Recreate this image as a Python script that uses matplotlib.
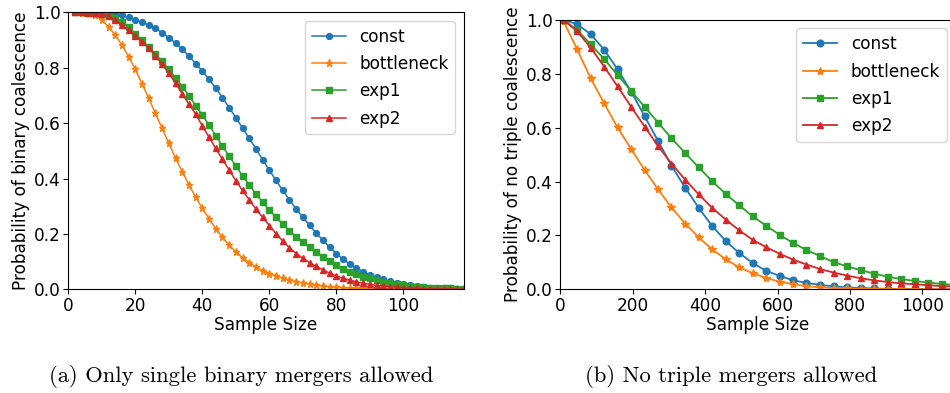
import matplotlib
matplotlib.use("Agg")
import matplotlib.pyplot as plt

# (a) only single binary mergers allowed
n_binary = list(range(2, 120, 2))
bin_const = [1.0, 1.0, 1.0, 1.0, 0.999, 0.998, 0.996, 0.990, 0.982, 0.973, 0.964, 0.954, 0.942, 0.926, 0.908,
             0.889, 0.867, 0.842, 0.815,
             0.788, 0.758, 0.726, 0.692, 0.656, 0.620, 0.582, 0.545, 0.507, 0.468, 0.430, 0.393, 0.357, 0.323,
             0.290, 0.260, 0.231, 0.203, 0.177, 0.152,
             0.129, 0.108, 0.091, 0.077, 0.064, 0.053, 0.044, 0.036, 0.029, 0.023, 0.018, 0.014, 0.011, 0.008,
             0.006, 0.005, 0.004, 0.003, 0.002, 0.002]
bin_bottleneck = [1.0, 0.999, 0.997, 0.990, 0.972, 0.948, 0.918, 0.882, 0.840, 0.794, 0.742, 0.690, 0.635, 0.581,
                  0.527, 0.473, 0.425, 0.377, 0.333,
                  0.292, 0.255, 0.219, 0.188, 0.160, 0.135, 0.114, 0.096, 0.081, 0.067, 0.057, 0.048, 0.040,
                  0.033, 0.028, 0.023, 0.018, 0.014, 0.012, 0.010,
                  0.008, 0.006, 0.005, 0.004, 0.003, 0.002, 0.002, 0.001, 0.001, 0.001, 0.001, 0.0005, 0.0004,
                  0.0003, 0.0002, 0.0002, 0.0001, 0.0001, 0.0001, 0.0]
bin_exp1 = [1.0, 1.0, 0.999, 0.997, 0.994, 0.990, 0.981, 0.966, 0.946, 0.922, 0.899, 0.875, 0.848, 0.823, 0.795,
            0.764, 0.732, 0.699, 0.663,
            0.629, 0.593, 0.555, 0.517, 0.481, 0.445, 0.410, 0.377, 0.344, 0.314, 0.286, 0.260, 0.235, 0.211,
            0.190, 0.171, 0.152, 0.135, 0.118, 0.101,
            0.086, 0.074, 0.063, 0.054, 0.046, 0.039, 0.032, 0.027, 0.022, 0.018, 0.015, 0.012, 0.010, 0.008,
            0.006, 0.005, 0.004, 0.003, 0.002, 0.002]
bin_exp2 = [1.0, 1.0, 0.999, 0.996, 0.993, 0.988, 0.972, 0.954, 0.936, 0.916, 0.894, 0.871, 0.844, 0.812, 0.780,
            0.744, 0.706, 0.669, 0.633,
            0.590, 0.549, 0.509, 0.469, 0.431, 0.392, 0.357, 0.323, 0.290, 0.260, 0.230, 0.201, 0.174, 0.150,
            0.129, 0.112, 0.096, 0.083, 0.070, 0.058,
            0.048, 0.040, 0.033, 0.027, 0.022, 0.018, 0.014, 0.011, 0.009, 0.007, 0.005, 0.004, 0.003, 0.002,
            0.002, 0.001, 0.001, 0.001, 0.0005, 0.0003]

# (b) no triple mergers allowed
n_triple = [9, 46, 84, 121, 158, 196, 233, 270, 307, 345, 382, 419, 457, 494, 531,
            569, 606, 643, 680, 718, 755, 792, 830, 867, 904, 942, 979, 1016, 1053, 1091]
tri_const = [1.0, 0.985, 0.947, 0.890, 0.817, 0.734, 0.642, 0.551, 0.459, 0.377, 0.303, 0.236, 0.179, 0.135,
             0.098, 0.068, 0.050, 0.033, 0.024, 0.016, 0.011, 0.007, 0.005, 0.003, 0.002, 0.001, 0.001,
             0.0005, 0.0003, 0.0002]
tri_bottleneck = [0.995, 0.892, 0.783, 0.691, 0.601, 0.520, 0.443, 0.371, 0.304, 0.244, 0.193, 0.149, 0.111,
                  0.082, 0.060, 0.042, 0.028, 0.019, 0.012, 0.007, 0.005, 0.003, 0.002, 0.001, 0.001, 0.0005,
                  0.0003, 0.0002, 0.0001, 0.0]
tri_exp1 = [1.0, 0.963, 0.910, 0.855, 0.796, 0.736, 0.677, 0.619, 0.561, 0.506, 0.453, 0.402, 0.354, 0.312,
            0.271, 0.236, 0.202, 0.172, 0.146, 0.123, 0.101, 0.085, 0.071, 0.058, 0.047, 0.038, 0.031, 0.025,
            0.020, 0.016]
tri_exp2 = [1.0, 0.959, 0.897, 0.827, 0.754, 0.677, 0.604, 0.532, 0.467, 0.407, 0.353, 0.303, 0.259, 0.219,
            0.184, 0.156, 0.132, 0.110, 0.092, 0.075, 0.062, 0.051, 0.041, 0.033, 0.027, 0.022, 0.019, 0.015,
            0.012, 0.010]

labels = ["const", "bottleneck", "exp1", "exp2"]
markers = ["o", "*", "s", "^"]
colors = ["#1f77b4", "#ff7f0e", "#2ca02c", "#d62728"]

W, H = 950, 393
fig = plt.figure(figsize=(9.5, 3.93), dpi=100)

def px_axes(x0, x1, y_top, y_bot):
    return fig.add_axes([x0 / W, (H - y_bot) / H, (x1 - x0) / W, (y_bot - y_top) / H])

def draw(ax, x, series, ylabel, fs, ms, lw):
    for ys, lab, m, c in zip(series, labels, markers, colors):
        size = ms * 1.25 if m == "*" else ms
        ax.plot(x, ys, marker=m, color=c, label=lab, markersize=size, linewidth=lw)
    ax.set_ylim(0, 1)
    ax.set_xlim(0, x[-1])
    ax.set_xlabel("Sample Size", fontsize=fs, labelpad=1)
    ax.set_ylabel(ylabel, fontsize=fs, labelpad=3)
    ax.tick_params(labelsize=fs, length=3.5, pad=2)
    ax.legend(loc="upper right", fontsize=fs, labelspacing=0.55)

#Left panel
ax1 = px_axes(68.3, 463.7, 12.3, 289.3)
draw(ax1, n_binary, [bin_const, bin_bottleneck, bin_exp1, bin_exp2],
     "Probability of binary coalescence", 12.2, 4.2, 1.1)

#Right panel
ax2 = px_axes(560.3, 955.3, 20.0, 289.3)
draw(ax2, n_triple, [tri_const, tri_bottleneck, tri_exp1, tri_exp2],
     "Probability of no triple coalescence", 12.2, 4.8, 1.3)

#Captions
fig.text(241 / W, (H - 377) / H, "(a) Only single binary mergers allowed",
         family="cmr10", fontsize=16.3, ha="center", va="center")
fig.text(731 / W, (H - 377) / H, "(b) No triple mergers allowed",
         family="cmr10", fontsize=16.3, ha="center", va="center")

fig.savefig("out.png", dpi=100)
